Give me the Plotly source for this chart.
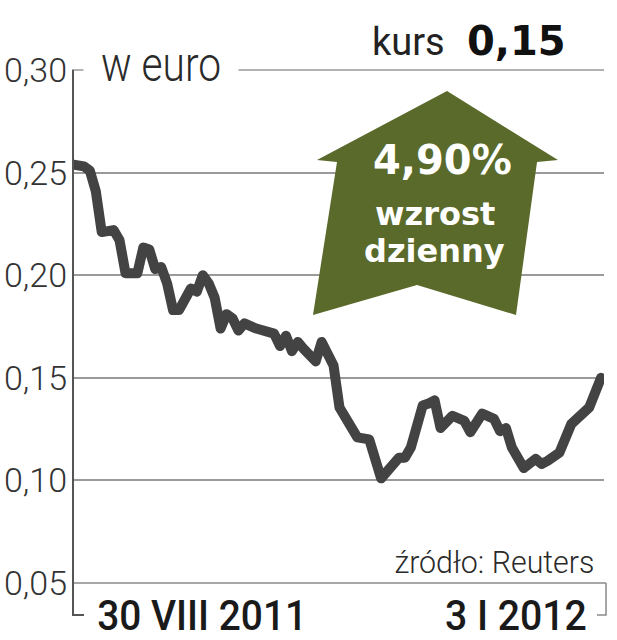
import plotly.graph_objects as go

# ---- data ----
day = [0, 2, 3, 4, 5, 7, 8, 9, 11, 12, 13, 14, 15, 16, 17, 18, 20, 21, 22, 23,
       24, 25, 26, 27, 28, 29, 31, 33, 34, 35, 36, 37, 38, 39, 41, 42, 43, 44,
       45, 46, 47, 48, 50, 52, 55, 56, 57, 59, 60, 61, 62, 63, 64, 66, 67, 69,
       71, 72, 73, 74, 76, 78, 79, 80, 82, 84, 86, 87, 89]
kurs = [0.254, 0.253, 0.251, 0.241, 0.221, 0.222, 0.217, 0.201, 0.201, 0.2135,
        0.2125, 0.203, 0.204, 0.196, 0.183, 0.183, 0.1935, 0.192, 0.200, 0.196,
        0.189, 0.174, 0.181, 0.179, 0.173, 0.1765, 0.174, 0.1715, 0.1715, 0.1655,
        0.1705, 0.163, 0.1675, 0.164, 0.158, 0.1675, 0.162, 0.156, 0.1355, 0.1305,
        0.1255, 0.121, 0.120, 0.101, 0.111, 0.111, 0.116, 0.1365, 0.1375, 0.139,
        0.1255, 0.1295, 0.1315, 0.129, 0.1235, 0.1325, 0.130, 0.124, 0.1255, 0.116,
        0.106, 0.1105, 0.108, 0.1095, 0.1135, 0.1275, 0.1325, 0.1355, 0.150]
y_ticks = [0.05, 0.10, 0.15, 0.20, 0.25, 0.30]
y_tick_text = ["0,05", "0,10", "0,15", "0,20", "0,25", "0,30"]
date_labels = ["30 VIII 2011", "3 I 2012"]
last_value = "0,15"
change_text = "4,90%"

# ---- geometry ----
W, H = 617, 640
L, R, T, B = 72, 13, 70, 57
PW, PH = W - L - R, H - T - B


def xp(px):
    return (px - L) / PW


def yp(py):
    return (H - B - py) / PH


GRID = "#9a9a9a"
LINE = "#434343"

fig = go.Figure()
fig.add_trace(go.Scatter(x=day, y=kurs, mode="lines",
                         line=dict(color=LINE, width=10), hoverinfo="skip"))

shapes = []
# top gridline (range edge)
shapes.append(dict(type="line", xref="paper", yref="paper", x0=0, x1=1, y0=1, y1=1,
                   line=dict(color=GRID, width=1.5), layer="below"))
# arrow
arrow_pts = [(447, 91), (558, 160), (537, 162), (516, 315), (417, 285),
             (313, 315), (337, 162), (317, 160)]
path = "M " + " L ".join(f"{xp(a):.4f},{yp(b):.4f}" for a, b in arrow_pts) + " Z"
shapes.append(dict(type="path", path=path, xref="paper", yref="paper",
                   fillcolor="#5a6a2b", line=dict(width=0), layer="above"))
# baseline
shapes.append(dict(type="line", xref="paper", yref="paper", x0=xp(72), x1=xp(606),
                   y0=0, y1=0, line=dict(color="#8a8a8a", width=1.5), layer="above"))
# y axis line with bottom hook
shapes.append(dict(type="path", xref="paper", yref="paper",
                   path=f"M {xp(73):.4f},{yp(70):.4f} L {xp(73):.4f},{yp(615):.4f} L {xp(84):.4f},{yp(615):.4f}",
                   line=dict(color="#555555", width=2), layer="above"))
# right hook
shapes.append(dict(type="path", xref="paper", yref="paper",
                   path=f"M {xp(606):.4f},{yp(583):.4f} L {xp(606):.4f},{yp(615):.4f} L {xp(597):.4f},{yp(615):.4f}",
                   line=dict(color="#8a8a8a", width=1.5), layer="above"))

ann = []
ann.append(dict(text="w euro", x=xp(161), y=yp(65), xref="paper", yref="paper",
                showarrow=False, font=dict(family="Roboto", size=48, color="#2a2a2a", weight=300),
                bgcolor="white", width=152, xanchor="center", yanchor="middle"))
ann.append(dict(text="kurs", x=xp(370), y=yp(42), xref="paper", yref="paper",
                showarrow=False, font=dict(family="Roboto", size=38, color="#222222"),
                xanchor="left", yanchor="middle"))
ann.append(dict(text=last_value, x=xp(568), y=yp(41), xref="paper", yref="paper",
                showarrow=False, font=dict(family="DejaVu Sans", size=40, color="#111111", weight=700),
                xanchor="right", yanchor="middle"))
ann.append(dict(text=change_text, x=xp(442), y=yp(160), xref="paper", yref="paper",
                showarrow=False, font=dict(family="DejaVu Sans", size=40, color="white", weight=700),
                xanchor="center", yanchor="middle"))
ann.append(dict(text="wzrost", x=xp(435), y=yp(214), xref="paper", yref="paper",
                showarrow=False, font=dict(family="DejaVu Sans", size=32, color="white", weight=700),
                xanchor="center", yanchor="middle"))
ann.append(dict(text="dzienny", x=xp(434), y=yp(251), xref="paper", yref="paper",
                showarrow=False, font=dict(family="DejaVu Sans", size=32, color="white", weight=700),
                xanchor="center", yanchor="middle"))
ann.append(dict(text="źródło: Reuters", x=xp(494), y=yp(562), xref="paper", yref="paper",
                showarrow=False, font=dict(family="Roboto", size=32, color="#2a2a2a", weight=300),
                xanchor="center", yanchor="middle"))
ann.append(dict(text=date_labels[0], x=xp(202), y=yp(615), xref="paper", yref="paper",
                showarrow=False, font=dict(family="Roboto", size=43, color="#1a1a1a", weight=500),
                xanchor="center", yanchor="middle"))
ann.append(dict(text=date_labels[1], x=xp(516), y=yp(615), xref="paper", yref="paper",
                showarrow=False, font=dict(family="Roboto", size=43, color="#1a1a1a", weight=500),
                xanchor="center", yanchor="middle"))

fig.update_layout(
    width=W, height=H, margin=dict(l=L, r=R, t=T, b=B, autoexpand=False),
    paper_bgcolor="white", plot_bgcolor="white", showlegend=False,
    shapes=shapes, annotations=ann,
    xaxis=dict(range=[0, 89.5], showgrid=False, zeroline=False, showticklabels=False,
               showline=False, ticks=""),
    yaxis=dict(range=[0.05, 0.30], tickvals=y_ticks, ticktext=y_tick_text,
               showgrid=True, gridcolor=GRID, gridwidth=1.5, zeroline=False,
               showline=False, ticks="", ticklabelstandoff=4,
               tickfont=dict(family="Roboto", size=34, color="#333333", weight=300)),
)

post = r"""
document.body.style.margin='0';
var m = {"30 VIII 2011": 210, "3 I 2012": 142, "w euro": 120,
         "\u017ar\u00f3d\u0142o: Reuters": 200};
document.querySelectorAll('text.annotation-text').forEach(function(t){
  var k = t.textContent;
  if (m[k]) { t.setAttribute('textLength', m[k]); t.setAttribute('lengthAdjust', 'spacingAndGlyphs'); }
});
document.querySelectorAll('.scatterlayer .js-line').forEach(function(p){
  p.style.strokeLinejoin = 'round'; p.style.strokeLinecap = 'round';
});
"""

fig.write_html("out.html", config={"displayModeBar": False}, post_script=post)
